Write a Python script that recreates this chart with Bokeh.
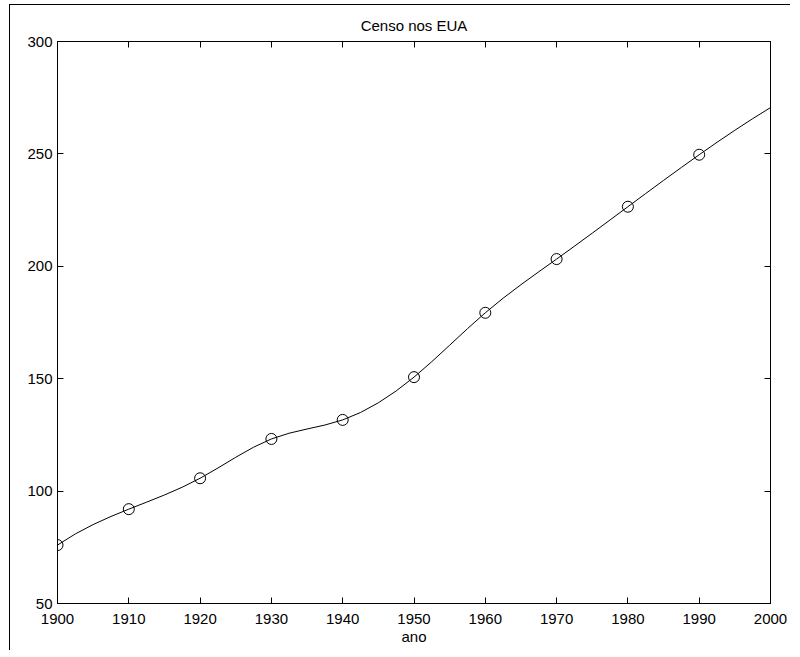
from bokeh.plotting import figure
from bokeh.models import Range1d, FixedTicker, LinearAxis
from bokeh.embed import file_html
from bokeh.resources import INLINE

# Census data (millions)
years = [1900, 1910, 1920, 1930, 1940, 1950, 1960, 1970, 1980, 1990]
population = [75.995, 91.972, 105.711, 123.203, 131.669, 150.697,
              179.323, 203.212, 226.505, 249.633]

# Smooth curve (every 2.5 years)
curve_years = [1900, 1902.5, 1905, 1907.5, 1910, 1912.5, 1915, 1917.5,
               1920, 1922.5, 1925, 1927.5, 1930, 1932.5, 1935, 1937.5,
               1940, 1942.5, 1945, 1947.5, 1950, 1952.5, 1955, 1957.5,
               1960, 1962.5, 1965, 1967.5, 1970, 1972.5, 1975, 1977.5,
               1980, 1982.5, 1985, 1987.5, 1990, 1992.5, 1995, 1997.5, 2000]
curve_values = [75.995, 80.945, 85.116, 88.721, 91.972, 95.084, 98.268, 101.740,
                105.711, 110.275, 115.048, 119.526, 123.203, 125.761, 127.621, 129.388,
                131.669, 134.958, 139.276, 144.551, 150.697, 157.583, 164.892, 172.260,
                179.323, 185.810, 191.823, 197.558, 203.212, 208.942, 214.755, 220.619,
                226.505, 232.380, 238.214, 243.975, 249.633, 255.156, 260.513, 265.674, 270.606]

x_ticks = [1900, 1910, 1920, 1930, 1940, 1950, 1960, 1970, 1980, 1990, 2000]
y_ticks = [50, 100, 150, 200, 250, 300]

FONT = "Liberation Sans"
FS = "15px"

p = figure(width=790, height=650, output_backend="svg", toolbar_location=None,
           x_range=Range1d(1900, 2000), y_range=Range1d(50, 300),
           title="Censo nos EUA",
           min_border_left=57, min_border_right=20, min_border_top=41, min_border_bottom=47)

p.title.align = "center"
p.title.text_font = FONT
p.title.text_font_size = FS
p.title.text_font_style = "normal"
p.title.text_color = "black"
p.title.standoff = 15

p.grid.visible = False
p.outline_line_color = "black"
p.outline_line_width = 1
p.background_fill_color = "white"
p.border_fill_color = None

def style_axis(ax, ticks, show_labels=True):
    ax.ticker = FixedTicker(ticks=ticks)
    ax.major_tick_in = 6
    ax.major_tick_out = 0
    ax.minor_tick_line_color = None
    ax.axis_line_color = "black"
    ax.major_tick_line_color = "black"
    ax.major_label_text_font = FONT
    ax.major_label_text_font_size = FS
    ax.major_label_text_color = "black" if show_labels else None
    ax.major_label_standoff = 5

style_axis(p.xaxis[0], x_ticks)
style_axis(p.yaxis[0], y_ticks)
p.xaxis[0].major_label_standoff = 10
p.xaxis[0].axis_label = "ano"
p.xaxis[0].axis_label_text_font = FONT
p.xaxis[0].axis_label_text_font_size = FS
p.xaxis[0].axis_label_text_font_style = "normal"
p.xaxis[0].axis_label_text_color = "black"
p.xaxis[0].axis_label_standoff = 1

top_axis = LinearAxis()
style_axis(top_axis, x_ticks, show_labels=False)
p.add_layout(top_axis, "above")
right_axis = LinearAxis()
style_axis(right_axis, y_ticks, show_labels=False)
p.add_layout(right_axis, "right")

p.line(curve_years, curve_values, line_color="black", line_width=1)
p.scatter(years, population, marker="circle", size=11, fill_color=None,
          line_color="black", line_width=1)

# thin frame around the window (top and left edges), as in the screenshot
p.styles = {
    "background-color": "white",
    "background-image": "linear-gradient(black, black), linear-gradient(black, black)",
    "background-size": "1px 100%, 100% 1px",
    "background-position": "9px 4px, 9px 4px",
    "background-repeat": "no-repeat",
}

open("out.html", "w").write(file_html(p, INLINE))
